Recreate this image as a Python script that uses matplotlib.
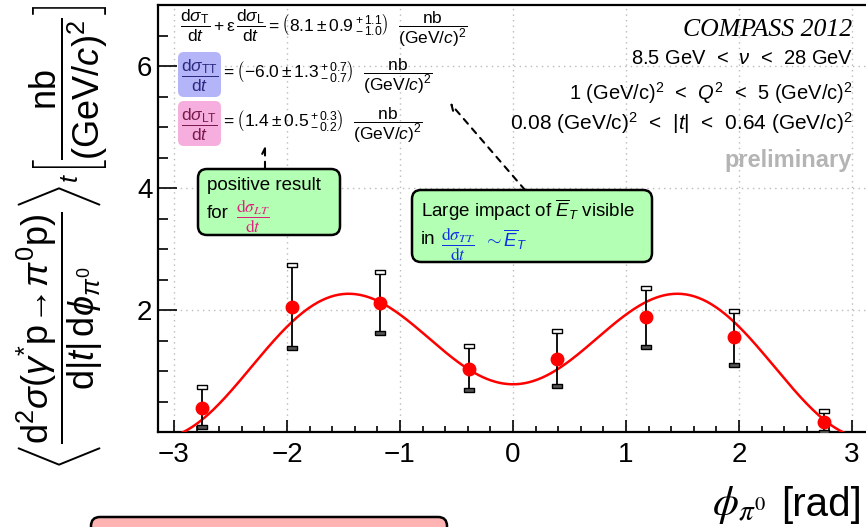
import numpy as np
import matplotlib
matplotlib.use("Agg")
import matplotlib.pyplot as plt
from matplotlib.patches import FancyBboxPatch
from matplotlib.transforms import IdentityTransform

plt.rcParams['font.family'] = ['Liberation Sans', 'DejaVu Sans']
plt.rcParams['mathtext.fontset'] = 'custom'
plt.rcParams['mathtext.rm'] = 'Liberation Sans'
plt.rcParams['mathtext.it'] = 'Liberation Sans:italic'
plt.rcParams['mathtext.bf'] = 'Liberation Sans:bold'
plt.rcParams['mathtext.sf'] = 'Liberation Sans'

# measured points (bin centres of 8 phi bins)
phi = [-2.75, -1.96, -1.18, -0.39, 0.39, 1.18, 1.96, 2.75]
xsec = [0.40, 2.05, 2.11, 1.04, 1.20, 1.88, 1.55, 0.16]
err_up = [0.33, 0.69, 0.51, 0.37, 0.46, 0.48, 0.44, 0.18]
err_dn = [0.31, 0.67, 0.49, 0.35, 0.44, 0.48, 0.45, 0.16]

# fit results shown on the plot
sig_T_L = 8.1
sig_TT = -6.0
sig_LT = 1.4
eps = 0.996

W, H = 866, 527
fig = plt.figure(figsize=(W / 100, H / 100), dpi=100)


def fx(x):
    return x / W


def fy(y):
    return 1 - y / H


ax = fig.add_axes([fx(158), fy(432), 710 / W, 427 / H])
ax.set_xlim(-np.pi, np.pi)
ax.set_ylim(0, 7)

# fit curve
pp = np.linspace(-np.pi, np.pi, 500)
fit = (sig_T_L + eps * np.cos(2 * pp) * sig_TT
       + np.sqrt(2 * eps * (1 + eps)) * np.cos(pp) * sig_LT) / (2 * np.pi)
ax.plot(pp, fit, color='red', lw=1.8, zorder=3)

# error bars with small box caps
ax.errorbar(phi, xsec, yerr=[err_dn, err_up], fmt='none', ecolor='black',
            elinewidth=1.3, zorder=4)
cap = [(-2, -1), (2, -1), (2, 1), (-2, 1), (-2, -1)]
tops = [y + e for y, e in zip(xsec, err_up)]
bots = [y - e for y, e in zip(xsec, err_dn)]
ax.plot(phi, tops, ls='none', marker=cap, ms=7, mfc='white', mec='black',
        mew=1.0, zorder=5)
ax.plot(phi, bots, ls='none', marker=cap, ms=7, mfc='#555555', mec='black',
        mew=1.0, zorder=5)
ax.plot(phi, xsec, ls='none', marker='o', ms=9, color='red', zorder=6)

# axes style
ax.set_xticks([-3, -2, -1, 0, 1, 2, 3])
ax.set_xticklabels(['\u22123', '\u22122', '\u22121', '0', '1', '2', '3'])
ax.set_xticks(np.arange(-3.0, 3.01, 0.2), minor=True)
ax.set_yticks([2, 4, 6])
ax.set_yticks(np.arange(0.5, 7.0, 0.5), minor=True)
ax.tick_params(axis='both', which='both', direction='in', labelsize=20, width=1.2)
ax.tick_params(axis='x', which='major', length=9, pad=7)
ax.tick_params(axis='x', which='minor', length=4.5)
ax.tick_params(axis='y', which='major', length=14, pad=4)
ax.tick_params(axis='y', which='minor', length=7)
for s in ax.spines.values():
    s.set_linewidth(1.6)
ax.grid(True, which='major', color='#bbbbbb', ls=(0, (1, 3)), lw=1.0)
ax.set_axisbelow(True)

# axis titles
fig.text(fx(62), fy(238),
         r"$\left\langle\dfrac{\mathrm{d}^2\sigma(\gamma^{*}\mathrm{p}\!\rightarrow\!\pi^0\mathrm{p})}"
         r"{\mathrm{d}|t|\,\mathrm{d}\phi_{\pi^0}}\right\rangle_{t}"
         r"\left[\dfrac{\mathrm{nb}}{(\mathrm{GeV}/c)^2}\right]$",
         rotation=90, ha='center', va='center', fontsize=26)
fig.text(fx(862), fy(505), "[rad]", ha='right', va='center', fontsize=29)
fig.text(fx(766), fy(505), r"$\phi_{\pi^0}$", ha='right', va='center',
         fontsize=30, math_fontfamily='stix')

# fit result formulas
fs = 12.5
fig.text(fx(180), fy(28),
         r"$\dfrac{\mathrm{d}\sigma_\mathrm{T}}{\mathrm{d}t}+\mathrm{\varepsilon}\,"
         r"\dfrac{\mathrm{d}\sigma_\mathrm{L}}{\mathrm{d}t}=\left(8.1\pm0.9\,{}^{+\,1.1}_{-\,1.0}\right)\ \ "
         r"\dfrac{\mathrm{nb}}{(\mathrm{GeV}/c)^2}$",
         ha='left', va='center', fontsize=fs)

tr = IdentityTransform()
fig.patches.append(FancyBboxPatch((178, H - 97), 43, 45,
                                  boxstyle='round,pad=0,rounding_size=6',
                                  fc='#b4b4f8', ec='none', transform=tr, figure=fig))
fig.patches.append(FancyBboxPatch((178, H - 146), 43, 45,
                                  boxstyle='round,pad=0,rounding_size=6',
                                  fc='#f5aede', ec='none', transform=tr, figure=fig))
fig.text(fx(199.5), fy(76), r"$\dfrac{\mathrm{d}\sigma_\mathrm{TT}}{\mathrm{d}t}$",
         ha='center', va='center', fontsize=fs, color='#2a2a80')
fig.text(fx(221), fy(76),
         r"$=\left(\mathrm{-}6.0\pm1.3\,{}^{+\,0.7}_{-\,0.7}\right)\ \ "
         r"\dfrac{\mathrm{nb}}{(\mathrm{GeV}/c)^2}$",
         ha='left', va='center', fontsize=fs)
fig.text(fx(199.5), fy(125), r"$\dfrac{\mathrm{d}\sigma_\mathrm{LT}}{\mathrm{d}t}$",
         ha='center', va='center', fontsize=fs, color='#7a1a4a')
fig.text(fx(221), fy(125),
         r"$=\left(1.4\pm0.5\,{}^{+\,0.3}_{-\,0.2}\right)\ \ "
         r"\dfrac{\mathrm{nb}}{(\mathrm{GeV}/c)^2}$",
         ha='left', va='center', fontsize=fs)

# kinematic range
fig.text(fx(852), fy(30), "COMPASS 2012", ha='right', va='center', fontsize=18.5,
         family='Liberation Serif', style='italic')
fig.text(fx(853), fy(59), r"8.5 GeV  <  $\nu$  <  28 GeV", ha='right', va='center',
         fontsize=14.5)
fig.text(fx(853), fy(93), r"1 (GeV/c)$^2$  <  $Q^2$  <  5 (GeV/c)$^2$", ha='right',
         va='center', fontsize=14.5)
fig.text(fx(853), fy(123), r"0.08 (GeV/c)$^2$  <  $|t|$  <  0.64 (GeV/c)$^2$", ha='right',
         va='center', fontsize=15)
fig.text(fx(852), fy(160), "preliminary", ha='right', va='center', fontsize=17,
         weight='bold', color='#b4b4b4')

# comment boxes
fig.patches.append(FancyBboxPatch((198, H - 235), 142, 66,
                                  boxstyle='round,pad=0,rounding_size=9',
                                  fc='#b3ffb3', ec='black', lw=1.8, transform=tr, figure=fig))
fig.text(fx(207), fy(185), "positive result", ha='left', va='center', fontsize=13.5)
fig.text(fx(207), fy(213), "for", ha='left', va='center', fontsize=13.5)
fig.text(fx(236), fy(216), r"$\dfrac{\mathrm{d}\sigma_{LT}}{\mathrm{d}t}$", ha='left',
         va='center', fontsize=12.5, color='#e0207f', math_fontfamily='stix')

fig.patches.append(FancyBboxPatch((412, H - 262), 240, 72,
                                  boxstyle='round,pad=0,rounding_size=9',
                                  fc='#b3ffb3', ec='black', lw=1.8, transform=tr, figure=fig))
fig.text(fx(421), fy(210), r"Large impact of $\overline{E}_T$ visible", ha='left',
         va='center', fontsize=13.5)
fig.text(fx(421), fy(240), "in", ha='left', va='center', fontsize=13.5)
fig.text(fx(441), fy(244), r"$\dfrac{\mathrm{d}\sigma_{TT}}{\mathrm{d}t}$", ha='left',
         va='center', fontsize=12.5, color='#1030e8', math_fontfamily='stix')
fig.text(fx(483), fy(240), r"$\sim\overline{E}_T$", ha='left', va='center',
         fontsize=13.5, color='#1030e8')

fig.patches.append(FancyBboxPatch((91, H - 545), 356, 28,
                                  boxstyle='round,pad=0,rounding_size=9',
                                  fc='#ffb3b3', ec='black', lw=1.8, transform=tr, figure=fig))

arrow = dict(arrowstyle='->', ls=(0, (3, 3)), lw=1.5, color='black',
             shrinkA=0, shrinkB=0)
fig.add_artist(plt.Annotation("", xy=(265, H - 146), xytext=(265, H - 168),
                              xycoords='figure pixels', textcoords='figure pixels',
                              arrowprops=arrow))
fig.add_artist(plt.Annotation("", xy=(450, H - 103), xytext=(525, H - 190),
                              xycoords='figure pixels', textcoords='figure pixels',
                              arrowprops=arrow))

fig.savefig("out.png", dpi=100)
